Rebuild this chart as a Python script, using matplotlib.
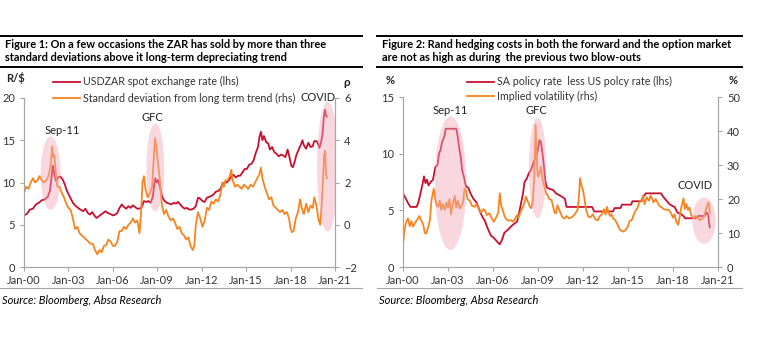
import matplotlib
matplotlib.use("Agg")
import matplotlib.pyplot as plt
from matplotlib.patches import Ellipse
from matplotlib.lines import Line2D

plt.rcParams['font.family'] = ['Lato', 'DejaVu Sans']

# =======================
#  Data (years since Jan-2000)
# =======================
zar_t = [0.0, 0.2, 0.4, 0.6, 0.8, 1.0, 1.2, 1.4, 1.6, 1.75, 1.85, 1.95, 2.05, 2.15, 2.3, 2.45, 2.6, 2.75,
         2.9, 3.1, 3.3, 3.5, 3.65, 3.8, 4.0, 4.15, 4.3, 4.45, 4.6, 4.75, 4.9, 5.05, 5.2, 5.35, 5.5, 5.65,
         5.8, 6.0, 6.15, 6.3, 6.45, 6.6, 6.75, 6.9, 7.05, 7.2, 7.35, 7.5, 7.65, 7.8, 7.95, 8.1, 8.25, 8.4,
         8.55, 8.7, 8.8, 8.87, 8.95, 9.05, 9.2, 9.35, 9.5, 9.65, 9.8, 9.95, 10.1, 10.25, 10.4, 10.55, 10.7,
         10.85, 11.0, 11.15, 11.3, 11.45, 11.6, 11.75, 11.9, 12.05, 12.2, 12.35, 12.5, 12.65, 12.8, 12.95,
         13.1, 13.25, 13.4, 13.55, 13.7, 13.85, 14.0, 14.15, 14.3, 14.45, 14.6, 14.75, 14.9, 15.05, 15.2,
         15.35, 15.5, 15.65, 15.8, 15.9, 16.0, 16.1, 16.2, 16.35, 16.5, 16.6, 16.75, 16.9, 17.05, 17.2,
         17.35, 17.5, 17.65, 17.8, 17.9, 18.05, 18.15, 18.25, 18.4, 18.55, 18.7, 18.8, 18.9, 19.05, 19.2,
         19.35, 19.5, 19.6, 19.75, 19.85, 19.95, 20.05, 20.15, 20.25, 20.32, 20.38, 20.45]
zar_v = [6.1, 6.3, 6.8, 6.9, 7.4, 7.6, 7.9, 8.0, 8.3, 9.0, 10.5, 12.0, 11.0, 10.2, 10.6, 10.7, 10.4, 9.8,
         9.0, 8.3, 7.6, 7.2, 7.0, 6.8, 6.6, 6.9, 6.4, 6.2, 6.5, 6.1, 5.8, 6.0, 6.2, 6.4, 6.6, 6.4,
         6.3, 6.1, 6.2, 6.4, 7.0, 7.4, 7.1, 6.9, 7.2, 7.0, 7.3, 7.1, 6.9, 6.9, 7.1, 7.8, 7.7, 7.8,
         7.6, 8.3, 9.8, 10.5, 10.0, 10.3, 9.3, 8.2, 7.8, 7.6, 7.5, 7.4, 7.6, 7.5, 7.7, 7.4, 7.1,
         6.9, 7.0, 6.8, 6.8, 6.9, 7.2, 8.2, 8.1, 7.8, 7.7, 8.2, 8.3, 8.4, 8.6, 8.9,
         9.0, 9.2, 9.8, 10.0, 10.0, 10.3, 10.7, 10.9, 10.6, 10.8, 10.8, 11.2, 11.6, 11.6, 12.1,
         12.2, 12.6, 13.5, 14.2, 15.4, 16.0, 15.0, 15.5, 14.8, 14.6, 13.9, 14.2, 13.6, 13.4, 13.1,
         13.3, 13.2, 13.0, 13.9, 13.2, 12.0, 11.8, 12.3, 13.3, 13.9, 14.5, 15.0, 14.4, 14.0, 14.7,
         14.2, 14.3, 14.9, 14.9, 14.6, 14.1, 14.7, 15.6, 17.8, 18.6, 18.0, 17.8]

sd_t = [0.0, 0.15, 0.3, 0.45, 0.6, 0.75, 0.9, 1.05, 1.2, 1.35, 1.5, 1.65, 1.8, 1.9, 1.97, 2.05, 2.15, 2.25,
        2.4, 2.55, 2.7, 2.85, 3.0, 3.15, 3.3, 3.45, 3.6, 3.75, 3.9, 4.05, 4.2, 4.35, 4.5, 4.65, 4.8, 4.95,
        5.1, 5.25, 5.4, 5.55, 5.7, 5.85, 6.0, 6.15, 6.3, 6.45, 6.6, 6.75, 6.9, 7.05, 7.2, 7.35, 7.5, 7.65,
        7.8, 7.9, 8.0, 8.1, 8.2, 8.35, 8.5, 8.65, 8.75, 8.85, 8.95, 9.05, 9.15, 9.3, 9.45, 9.6, 9.75, 9.9,
        10.05, 10.2, 10.35, 10.5, 10.65, 10.8, 10.95, 11.1, 11.25, 11.4, 11.5, 11.6, 11.75, 11.9, 12.05,
        12.2, 12.35, 12.5, 12.65, 12.8, 12.95, 13.1, 13.25, 13.4, 13.5, 13.6, 13.75, 13.9, 14.0, 14.1,
        14.25, 14.4, 14.55, 14.7, 14.85, 15.0, 15.15, 15.3, 15.45, 15.6, 15.75, 15.9, 16.0, 16.1, 16.25,
        16.4, 16.55, 16.7, 16.85, 17.0, 17.15, 17.3, 17.45, 17.6, 17.75, 17.9, 18.0, 18.1, 18.2, 18.35,
        18.5, 18.65, 18.75, 18.9, 19.05, 19.2, 19.35, 19.5, 19.6, 19.75, 19.9, 20.0, 20.1, 20.2, 20.27,
        20.33, 20.4, 20.45]
sd_v = [1.5, 1.8, 1.7, 2.0, 2.2, 2.0, 2.1, 2.3, 2.1, 2.0, 2.1, 2.3, 2.8, 3.7, 3.2, 3.3, 2.4, 1.8,
        1.8, 1.5, 1.3, 1.0, 0.8, 0.7, 0.3, -0.2, -0.1, -0.4, -0.5, -0.6, -0.7, -0.8, -0.9, -0.9, -1.2, -1.4,
        -1.2, -1.3, -1.0, -0.95, -0.7, -0.8, -1.0, -1.0, -0.8, -0.3, -0.3, -0.1, -0.2, 0.0, 0.1, 0.3, 0.1, 0.2,
        -0.4, 0.5, 2.0, 2.3, 1.7, 1.3, 1.5, 1.8, 3.0, 4.1, 3.6, 2.9, 2.3, 1.0, 0.5, 0.7, 0.4, 0.2,
        0.3, 0.1, -0.2, -0.1, -0.4, -0.5, -0.7, -0.6, -1.0, -1.2, -1.0, 0.0, 0.6, 0.3, -0.1,
        0.2, 0.8, 0.7, 1.1, 1.0, 1.2, 1.1, 1.4, 2.0, 1.8, 2.1, 2.1, 2.3, 2.6, 2.1,
        1.8, 1.9, 1.8, 1.7, 1.9, 1.8, 1.7, 1.9, 1.8, 2.0, 2.2, 2.4, 2.7, 2.2, 1.8,
        1.5, 1.2, 1.3, 0.9, 0.8, 0.7, 0.6, 0.7, 0.5, 0.6, 0.3, -0.2, -0.35, -0.3, 0.3,
        0.6, 1.2, 0.8, 0.5, 1.0, 0.6, 0.9, 0.8, 1.3, 0.9, 0.2, 0.0, 0.9, 2.3, 3.3,
        3.5, 2.4, 2.2]

rate_t = [0.0, 0.2, 0.35, 0.5, 0.9, 1.0, 1.15, 1.3, 1.4, 1.5, 1.6, 1.7, 1.85, 2.0, 2.15, 2.3, 2.4, 2.5,
          2.6, 2.75, 2.85, 3.55, 3.65, 3.75, 3.85, 3.95, 4.05, 4.2, 4.35, 4.5, 4.7, 4.9, 5.1, 5.3, 5.45,
          5.65, 5.85, 6.1, 6.3, 6.45, 6.6, 6.75, 7.0, 7.3, 7.6, 7.7, 7.85, 8.0, 8.1, 8.25, 8.4, 8.55, 8.7,
          8.8, 8.9, 9.0, 9.1, 9.2, 9.3, 9.4, 9.5, 9.6, 9.75, 10.0, 10.2, 10.6, 10.8, 10.9, 12.6, 12.75,
          14.0, 14.1, 14.5, 14.6, 15.2, 15.3, 15.9, 16.0, 16.2, 17.2, 17.35, 17.6, 17.8, 18.1, 18.3, 18.5,
          18.7, 18.8, 19.5, 19.7, 20.1, 20.25, 20.35, 20.4, 20.45]
rate_v = [6.5, 6.0, 5.6, 5.3, 5.3, 5.6, 6.4, 7.3, 8.0, 7.4, 7.7, 7.2, 7.5, 7.7, 8.8, 9.0, 10.0, 10.3,
          11.0, 11.5, 12.2, 12.2, 11.5, 10.5, 9.7, 8.5, 8.0, 7.1, 7.0, 6.5, 6.0, 5.7, 5.0, 4.4, 4.1,
          3.4, 2.8, 2.5, 2.2, 2.0, 2.4, 3.0, 3.3, 3.7, 4.0, 4.5, 5.5, 6.5, 7.5, 7.8, 8.3, 8.6, 9.2,
          9.6, 9.8, 10.4, 11.2, 11.0, 10.0, 8.8, 7.5, 7.0, 6.9, 6.8, 6.5, 6.2, 6.0, 5.3, 5.3, 4.9,
          4.9, 5.2, 5.2, 5.5, 5.5, 5.8, 5.8, 6.2, 6.5, 6.5, 6.2, 5.8, 5.5, 5.3, 4.8, 4.7,
          4.5, 4.3, 4.3, 4.5, 4.5, 4.8, 4.6, 3.9, 3.5]

vol_t = [0.0, 0.1, 0.2, 0.33, 0.45, 0.55, 0.67, 0.8, 0.95, 1.1, 1.2, 1.35, 1.45, 1.55, 1.7, 1.8, 1.9, 2.0,
         2.05, 2.15, 2.25, 2.33, 2.45, 2.55, 2.65, 2.78, 2.9, 3.0, 3.1, 3.2, 3.33, 3.45, 3.55, 3.65, 3.78,
         3.9, 4.0, 4.1, 4.2, 4.3, 4.45, 4.6, 4.78, 4.9, 5.05, 5.2, 5.35, 5.45, 5.6, 5.75, 5.9, 6.05, 6.2,
         6.35, 6.45, 6.55, 6.65, 6.78, 6.9, 7.05, 7.2, 7.33, 7.45, 7.6, 7.7, 7.8, 7.95, 8.1, 8.2, 8.3,
         8.45, 8.55, 8.65, 8.75, 8.84, 8.9, 8.95, 9.0, 9.1, 9.2, 9.3, 9.4, 9.55, 9.65, 9.75, 9.9, 10.0,
         10.1, 10.2, 10.3, 10.45, 10.6, 10.75, 10.9, 11.05, 11.2, 11.35, 11.5, 11.65, 11.75, 11.8, 11.9,
         12.0, 12.1, 12.2, 12.35, 12.5, 12.65, 12.8, 12.9, 13.0, 13.1, 13.25, 13.4, 13.5, 13.6, 13.7,
         13.8, 13.9, 14.0, 14.15, 14.3, 14.45, 14.6, 14.7, 14.85, 15.0, 15.1, 15.25, 15.35, 15.5, 15.65,
         15.75, 15.9, 16.0, 16.1, 16.25, 16.4, 16.5, 16.6, 16.7, 16.85, 17.0, 17.1, 17.25, 17.4, 17.55,
         17.7, 17.85, 18.0, 18.1, 18.2, 18.35, 18.45, 18.55, 18.7, 18.8, 18.9, 19.0, 19.1, 19.2, 19.35,
         19.5, 19.65, 19.8, 19.9, 20.0, 20.1, 20.2, 20.3, 20.35, 20.4, 20.45]
vol_v = [6.5, 11, 13, 14.3, 12, 13.5, 11.9, 13, 14, 15, 13.8, 12.5, 10, 9.9, 12, 14, 19.7, 22,
         23, 20, 18, 17.7, 19.5, 16.8, 18.5, 16.8, 19, 17.5, 20, 15.5, 18.7, 21, 17.5, 19.5, 17.2,
         18, 19, 23, 22.6, 20, 19.5, 18, 17.7, 18.5, 17.2, 16, 17, 16.8, 15.3, 15.8, 14.5, 13.3, 14.5,
         16, 21.7, 18, 16.8, 14.8, 14, 13.6, 13.8, 13.3, 14, 15.3, 14.5, 15.8, 17.2, 19, 20.7, 19.5,
         17.8, 17.3, 19.3, 26, 41.8, 35, 29, 26.6, 27.5, 29.5, 26, 24, 21.7, 21, 20, 19.7, 18,
         16, 15.8, 18.2, 16.5, 14.8, 14.2, 15, 14.3, 14.5, 15, 15.8, 17, 22, 26.1, 24,
         22.6, 20, 17, 14.8, 14.6, 15.5, 14.2, 13.8, 13.8, 14.8, 15.5, 17, 15.4, 17.7, 16,
         15, 15.5, 14.3, 13.8, 12.5, 11, 10.6, 10.4, 11, 12, 13.5, 13.8, 15, 16.5, 17.5,
         19, 19.7, 21, 18.5, 20.5, 19.5, 21, 20.2, 19, 20, 18.7, 18, 17.5, 17, 16.8,
         16.8, 16, 14.5, 15.5, 13.5, 12.4, 15, 17.5, 20.2, 17, 18.5, 16.8, 17.5, 15.5, 14.3,
         15, 14.5, 13.8, 14, 14.5, 15.3, 17, 18.3, 19, 18.5, 16]

tick_years = [0, 3, 6, 9, 12, 15, 18, 21]
tick_labels = ['Jan-00', 'Jan-03', 'Jan-06', 'Jan-09', 'Jan-12', 'Jan-15', 'Jan-18', 'Jan-21']

# highlighted episodes: (label, centre year, centre lhs, width yrs, height lhs)
events_1 = [('Sep-11', 1.8, 11.1, 1.35, 8.7), ('GFC', 8.87, 11.8, 1.2, 10.4), ('COVID', 20.5, 11.9, 1.42, 15.4)]
events_2 = [('Sep-11', 3.17, 7.4, 2.1, 11.8), ('GFC', 8.97, 8.75, 1.15, 8.9), ('COVID', 20.07, 4.1, 1.56, 4.1)]
# label positions (year, lhs value)
labels_1 = [(2.57, 16.2), (8.65, 17.75), (19.86, 20.1)]
labels_2 = [(3.13, 13.8), (8.87, 13.8), (19.47, 7.2)]

RED = '#C8102E'
ORANGE = '#F7841F'
PINK = '#F2A7B8'
GREY = '#A6A6A6'
TXT = '#333333'
FS = 8
LFS = 7.7

W, H = 762, 344


def fx(px):
    return px / W


def fy(py):
    return 1 - py / H


def style_axes(ax, ax2, ylim, y2lim, yticks, y2ticks):
    ax.set_xlim(0, 21)
    ax.set_ylim(*ylim)
    ax2.set_ylim(*y2lim)
    ax.set_yticks(yticks)
    ax2.set_yticks(y2ticks)
    ax.set_xticks(tick_years)
    ax.set_xticklabels(tick_labels)
    for a in (ax, ax2):
        a.spines['top'].set_visible(False)
        for s in ('left', 'right', 'bottom'):
            a.spines[s].set_color(GREY)
            a.spines[s].set_linewidth(0.8)
        a.tick_params(colors=GREY, labelcolor=TXT, labelsize=FS, length=3, width=0.8)
    ax.tick_params(axis='x', pad=3)


fig = plt.figure(figsize=(W / 100, H / 100), dpi=100)

# ---------- Figure 1 ----------
ax1 = fig.add_axes([fx(24), fy(267), fx(335 - 24), (267 - 98) / H])
ax1b = ax1.twinx()
l1, = ax1.plot(zar_t, zar_v, color=RED, lw=1.3, label='USDZAR spot exchange rate (lhs)')
l2, = ax1b.plot(sd_t, sd_v, color=ORANGE, lw=1.3, label='Standard deviation from long term trend (rhs)')
style_axes(ax1, ax1b, (0, 20), (-2, 6), [0, 5, 10, 15, 20], [-2, 0, 2, 4, 6])


def to_rhs1(v):
    return v * 8 / 20 - 2


for (name, cx, cy, w, h), (lx, ly) in zip(events_1, labels_1):
    e = Ellipse((cx, to_rhs1(cy)), w, h * 8 / 20, facecolor=PINK, edgecolor='none', alpha=0.45, zorder=5)
    ax1b.add_patch(e)
    ax1.text(lx, ly, name, ha='center', va='center', fontsize=FS, color='#222222')

fig.legend(handles=[l1, l2], loc='upper left', bbox_to_anchor=(fx(48), fy(71)), frameon=False,
           fontsize=LFS, handlelength=2.5, handletextpad=0.3, labelspacing=0.5, borderpad=0,
           labelcolor=TXT)
fig.text(fx(6), fy(78), 'R/$', fontsize=FS, fontweight='bold', va='center', color='#222222')
fig.text(fx(347), fy(83), 'ρ', fontsize=8.5, fontweight='bold', va='center', ha='center', color='#222222')

# ---------- Figure 2 ----------
ax2 = fig.add_axes([fx(403), fy(267), fx(718 - 403), (267 - 97) / H])
ax2b = ax2.twinx()
l3, = ax2.plot(rate_t, rate_v, color=RED, lw=1.3, label='SA policy rate  less US polcy rate (lhs)')
l4, = ax2b.plot(vol_t, vol_v, color=ORANGE, lw=1.3, label='Implied volatility (rhs)')
style_axes(ax2, ax2b, (0, 15), (0, 50), [0, 5, 10, 15], [0, 10, 20, 30, 40, 50])

for (name, cx, cy, w, h), (lx, ly) in zip(events_2, labels_2):
    e = Ellipse((cx, cy * 50 / 15), w, h * 50 / 15, facecolor=PINK, edgecolor='none', alpha=0.45, zorder=5)
    ax2b.add_patch(e)
    ax2.text(lx, ly, name, ha='center', va='center', fontsize=FS, color='#222222')

fig.legend(handles=[l3, l4], loc='upper left', bbox_to_anchor=(fx(462), fy(71)), frameon=False,
           fontsize=LFS, handlelength=2.5, handletextpad=0.3, labelspacing=0.3, borderpad=0,
           labelcolor=TXT)
fig.text(fx(390), fy(81), '%', fontsize=FS, fontweight='bold', va='center', ha='center', color='#222222')
fig.text(fx(733), fy(81), '%', fontsize=FS, fontweight='bold', va='center', ha='center', color='#222222')

# ---------- titles, rules, sources ----------
titles = ['Figure 1: On a few occasions the ZAR has sold by more than three\n'
          'standard deviations above it long-term depreciating trend',
          'Figure 2: Rand hedging costs in both the forward and the option market\n'
          'are not as high as during  the previous two blow-outs']
panels = [(0, 362), (377, 742)]
for (x0, x1), title in zip(panels, titles):
    fig.add_artist(Line2D([fx(x0), fx(x1)], [fy(36), fy(36)], color='black', lw=1.4))
    fig.add_artist(Line2D([fx(x0), fx(x1)], [fy(66.5), fy(66.5)], color='black', lw=1.4))
    fig.add_artist(Line2D([fx(x0), fx(x1)], [fy(288), fy(288)], color=GREY, lw=0.8))
    fig.text(fx(x0 + 5), fy(39), title, fontsize=7.9, fontweight='bold', va='top', ha='left',
             linespacing=1.2, color='black')
    fig.text(fx(x0 + 2), fy(300), 'Source: Bloomberg, Absa Research', fontsize=FS, style='italic',
             va='center', ha='left', color='black')

fig.savefig('out.png', dpi=100)
